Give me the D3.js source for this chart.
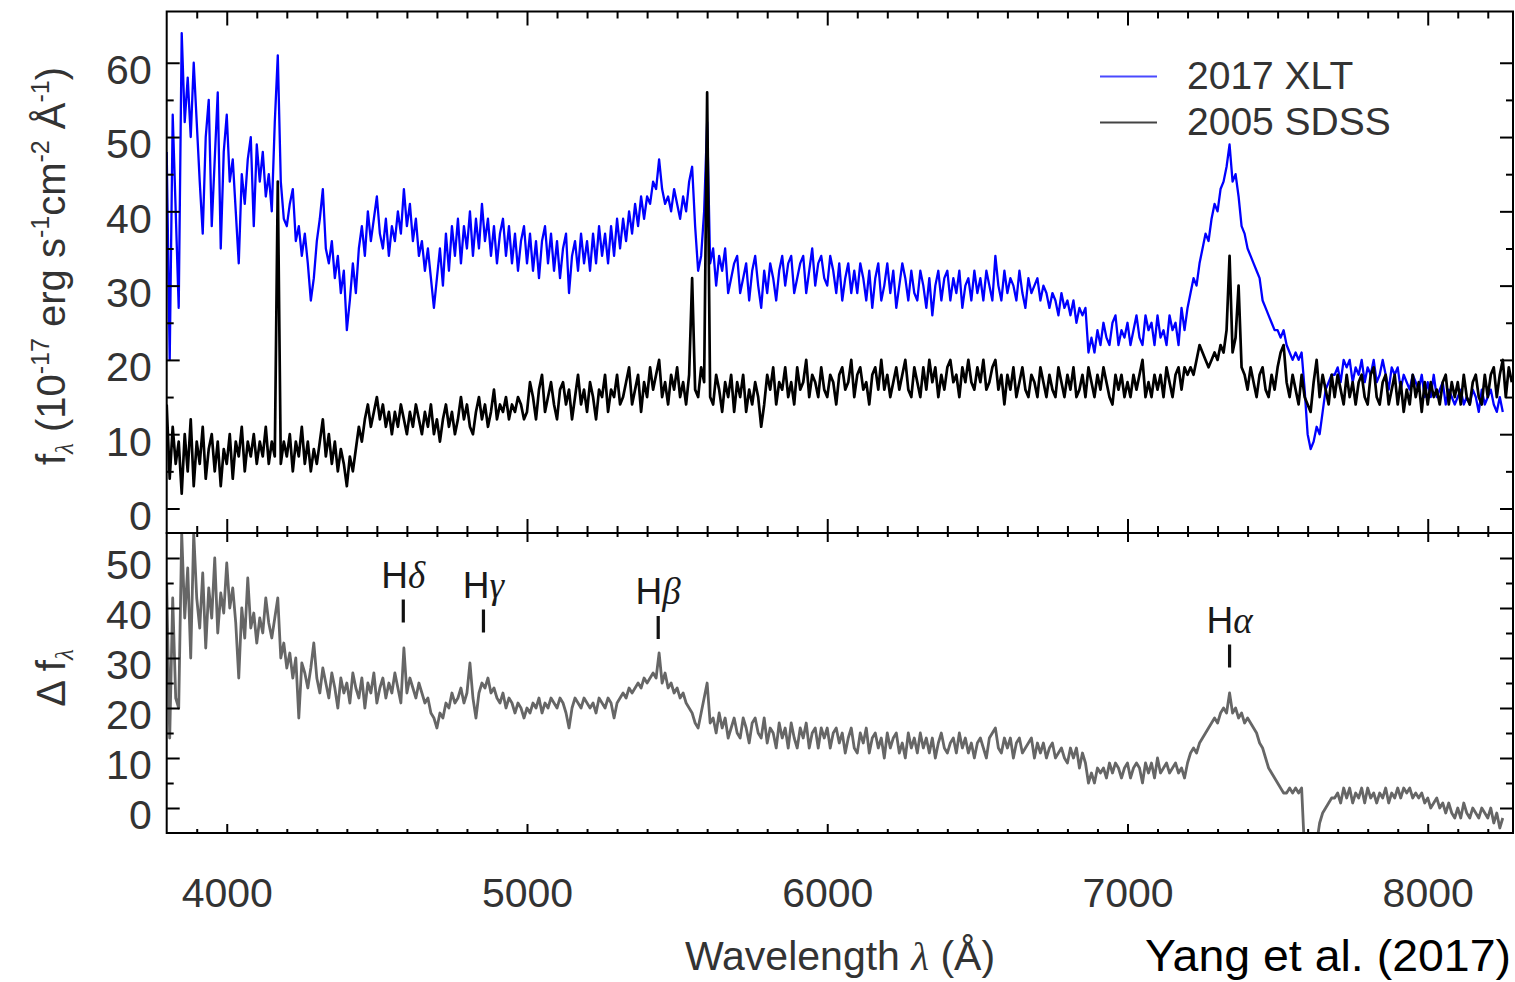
<!DOCTYPE html>
<html>
<head>
<meta charset="utf-8">
<script src="https://cdn.jsdelivr.net/npm/d3@7"></script>
<style>
  html, body { margin: 0; padding: 0; background: #fff; }
  svg { display: block; }
  text { font-family: "Liberation Sans", Arial, Helvetica, sans-serif; }
</style>
</head>
<body>
<svg id="chart" width="1515" height="982"></svg>
<script>
// Spectral sampling grid (Angstrom): first pixel and pixel width
const waveStart = 3800;
const waveStep = 10;

// 2017 XLT spectrum, f_lambda in 1e-17 erg/s/cm^2/A (one row per 100 A)
const flux2017 = [
  48, 20, 53, 40, 27, 64, 52, 58, 50, 60,
  52, 44, 37, 50, 55, 38, 47, 56, 35, 48,
  53, 44, 47, 40, 33, 45, 41, 47, 50, 38,
  49, 44, 48, 42, 45, 40, 52, 61, 44, 39,
  38, 41, 43, 36, 38, 34, 37, 33, 28, 31,
  36, 39, 43, 35, 33, 36, 31, 34, 29, 32,
  24, 28, 33, 29, 35, 38, 34, 40, 36, 39,
  42, 37, 35, 39, 34, 38, 36, 40, 37, 43,
  38, 41, 36, 39, 34, 36, 32, 35, 31, 27,
  31, 35, 30, 37, 32, 38, 34, 39, 33, 38,
  35, 40, 34, 39, 35, 41, 36, 39, 34, 38,
  33, 37, 39, 34, 38, 33, 37, 32, 36, 38,
  33, 37, 32, 36, 31, 36, 38, 33, 37, 32,
  36, 31, 35, 37, 29, 34, 36, 32, 37, 33,
  36, 32, 37, 33, 38, 34, 37, 33, 38, 34,
  39, 35, 39, 36, 40, 37, 41, 38, 42, 39,
  42, 41, 44, 43, 47, 43, 41, 42, 40, 43,
  41, 39, 42, 40, 44, 46, 38, 32, 34, 40,
  52, 33, 35, 30, 34, 32, 35, 29, 31, 33,
  34, 29, 31, 33, 28, 32, 34, 30, 27, 32,
  29, 33, 31, 28, 32, 34, 30, 33, 34, 29,
  31, 33, 34, 29, 32, 35, 30, 33, 34, 31,
  30, 34, 32, 29, 33, 28, 31, 33, 29, 32,
  29, 33, 31, 28, 32, 27, 31, 33, 28, 30,
  33, 29, 32, 27, 30, 33, 31, 28, 32, 29,
  28, 32, 30, 27, 31, 26, 30, 32, 28, 31,
  32, 28, 31, 29, 32, 27, 30, 31, 28, 32,
  29, 31, 28, 32, 30, 28, 34, 30, 28, 32,
  29, 31, 30, 28, 32, 29, 27, 31, 29, 30,
  31, 28, 30, 29, 27, 29, 28, 26, 29, 27,
  28, 26, 28, 25, 27, 26, 27, 21, 23, 21,
  24, 22, 25, 23, 22, 25, 26, 22, 24, 23,
  25, 22, 24, 26, 23, 22, 26, 24, 25, 22,
  26, 23, 24, 22, 26, 24, 25, 22, 27, 24,
  27, 29, 31, 30, 33, 35, 37, 36, 39, 41,
  40, 43, 44, 46, 49, 44, 45, 42, 38, 37,
  35, 34, 33, 32, 31, 28, 27, 26, 25, 24,
  24, 23, 24, 22, 21, 20, 21, 20, 21, 16,
  10, 8, 9, 11, 10, 13, 16, 17, 18, 18,
  19, 17, 20, 19, 20, 17, 19, 18, 20, 17,
  19, 18, 20, 17, 18, 20, 18, 16, 19, 18,
  19, 16, 18, 17, 16, 18, 17, 16, 18, 15,
  17, 15, 18, 15, 16, 17, 14, 16, 15, 14,
  15, 16, 14, 15, 14, 16, 15, 13, 16, 14,
  15, 16, 14, 13, 15, 13
];

// 2005 SDSS spectrum, same units and grid
const flux2005 = [
  14, 4, 11, 6, 9, 2, 10, 5, 12, 3,
  9, 6, 11, 4, 8, 10, 5, 9, 3, 8,
  6, 10, 4, 9, 7, 11, 5, 9, 7, 10,
  6, 9, 7, 11, 6, 9, 7, 44, 6, 9,
  7, 10, 5, 9, 7, 11, 6, 9, 5, 8,
  6, 9, 12, 7, 10, 6, 9, 5, 8, 6,
  3, 7, 5, 8, 11, 9, 12, 14, 11, 13,
  15, 12, 14, 11, 13, 10, 13, 11, 14, 12,
  10, 13, 11, 14, 12, 10, 13, 11, 14, 10,
  12, 9, 12, 14, 11, 13, 10, 12, 15, 12,
  14, 11, 10, 13, 15, 12, 14, 11, 13, 16,
  12, 14, 13, 15, 12, 14, 13, 15, 14, 12,
  13, 17, 15, 12, 16, 18, 13, 15, 17, 14,
  12, 16, 17, 14, 16, 12, 15, 18, 14, 16,
  13, 17, 15, 12, 16, 15, 18, 13, 16, 15,
  18, 14, 15, 17, 19, 14, 16, 18, 13, 17,
  15, 19, 16, 18, 20, 15, 17, 14, 18, 16,
  19, 15, 17, 14, 18, 31, 16, 15, 19, 17,
  56, 15, 14, 18, 16, 13, 17, 15, 18, 13,
  17, 15, 18, 13, 16, 14, 17, 15, 11, 14,
  18, 16, 19, 14, 17, 16, 19, 15, 17, 14,
  19, 16, 17, 20, 15, 18, 17, 15, 19, 16,
  15, 18, 17, 14, 18, 19, 16, 17, 20, 15,
  18, 19, 16, 17, 14, 18, 19, 16, 20, 16,
  18, 15, 17, 19, 16, 18, 20, 16, 15, 19,
  17, 15, 19, 16, 20, 17, 19, 15, 18, 16,
  19, 20, 17, 18, 15, 19, 17, 20, 17, 16,
  19, 17, 20, 16, 17, 19, 20, 16, 18, 14,
  18, 16, 19, 15, 17, 19, 16, 15, 18, 17,
  15, 19, 17, 15, 18, 16, 15, 19, 17, 15,
  18, 16, 19, 15, 16, 18, 15, 19, 17, 15,
  18, 16, 19, 17, 15, 14, 18, 16, 18, 15,
  17, 15, 18, 16, 18, 20, 15, 17, 15, 18,
  16, 18, 15, 19, 17, 15, 18, 19, 16, 19,
  18, 19, 18, 20, 22, 21, 20, 19, 20, 21,
  20, 22, 21, 24, 34, 21, 23, 30, 19, 18,
  16, 19, 17, 15, 18, 19, 16, 15, 18, 16,
  19, 21, 22, 17, 15, 18, 16, 14, 18, 15,
  14, 13, 17, 20, 15, 18, 16, 14, 18, 15,
  18, 16, 14, 18, 15, 17, 14, 17, 18, 15,
  14, 18, 19, 15, 14, 17, 18, 14, 16, 18,
  14, 17, 13, 16, 14, 18, 15, 17, 13, 17,
  14, 17, 15, 16, 14, 17, 18, 14, 17, 15,
  17, 14, 18, 15, 14, 17, 18, 15, 14, 18,
  15, 18, 19, 15, 18, 20, 15, 19, 17
];

// Difference spectrum (2017 - 2005)
const fluxDiff = [
  45, 14, 42, 22, 20, 55, 38, 48, 30, 55,
  42, 36, 47, 32, 44, 38, 50, 35, 43, 39,
  49, 40, 44, 37, 26, 40, 34, 46, 36, 39,
  33, 38, 35, 42, 37, 34, 38, 42, 30, 33,
  28, 31, 26, 30, 18, 29, 27, 24, 28, 33,
  26, 23, 28, 25, 22, 27, 24, 20, 26, 23,
  25, 21, 27, 24, 22, 26, 20, 25, 23, 27,
  21, 24, 26, 22, 25, 23, 27, 24, 21, 32,
  23, 26, 24, 22, 25, 23, 21, 22, 19, 18,
  16, 19, 18, 21, 20, 23, 21, 22, 24, 21,
  23, 29, 22, 18, 23, 25, 24, 26, 23, 24,
  22, 21, 23, 20, 22, 21, 19, 21, 20, 18,
  20, 19, 21, 20, 22, 19, 21, 20, 22, 21,
  20, 22, 21, 19, 16, 20, 22, 21, 20, 22,
  21, 20, 21, 19, 22, 21, 20, 22, 21, 18,
  21, 22, 23, 22, 24, 23, 24, 25, 24, 26,
  25, 26, 27, 26, 31, 25, 27, 24, 25, 23,
  24, 22, 23, 21, 20, 19, 17, 16, 19, 22,
  25, 17, 18, 15, 19, 16, 18, 14, 16, 18,
  15, 14, 18, 16, 13, 17, 18, 15, 14, 18,
  13, 16, 15, 12, 17, 14, 16, 12, 17, 14,
  12, 16, 14, 17, 12, 15, 16, 12, 16, 14,
  16, 12, 15, 16, 13, 15, 11, 14, 16, 12,
  11, 15, 13, 16, 11, 14, 15, 12, 14, 10,
  15, 12, 14, 15, 11, 13, 10, 15, 12, 14,
  11, 15, 12, 14, 11, 14, 10, 13, 15, 12,
  11, 13, 14, 11, 15, 12, 14, 11, 13, 10,
  13, 14, 12, 10, 14, 15, 16, 12, 11, 14,
  12, 14, 10, 13, 14, 11, 12, 13, 14, 10,
  13, 11, 13, 10, 12, 13, 10, 11, 12, 10,
  9, 12, 10, 12, 8, 11, 9, 5, 7, 5,
  8, 7, 8, 6, 9, 7, 9, 8, 6, 8,
  9, 6, 8, 9, 8, 5, 9, 7, 9, 6,
  10, 7, 8, 9, 7, 8, 9, 7, 8, 6,
  9, 11, 12, 11, 13, 14, 15, 16, 17, 18,
  17, 19, 20, 19, 23, 19, 20, 18, 19, 17,
  18, 17, 16, 15, 13, 12, 10, 8, 7, 6,
  5, 4, 3, 3, 4, 3, 4, 3, 4, -9,
  -10, -10, -9, -7, -3, -1, 0, 1, 2, 2,
  3, 1, 4, 2, 4, 1, 3, 2, 4, 1,
  4, 2, 3, 1, 3, 2, 4, 1, 3, 2,
  4, 2, 4, 3, 4, 2, 3, 2, 3, 1,
  2, 0, 1, 2, 0, 1, -1, 1, -1, -2,
  0, -2, 1, -1, -2, 0, -1, -2, 0, -1,
  -2, 0, -3, -1, -4, -2
];

// Axis ticks
const xMajorTicks = [4000, 5000, 6000, 7000, 8000];
const topMajorTicks = [0, 10, 20, 30, 40, 50, 60];
const bottomMajorTicks = [0, 10, 20, 30, 40, 50];

// Legend entries
const seriesNames = ["2017 XLT", "2005 SDSS"];
const seriesColors = ["#0000ff", "#000000"];

// Balmer line markers (observed wavelength, top of marker in difference units)
const lineGreek = ["\u03b4", "\u03b3", "\u03b2", "\u03b1"];
const lineWaves = [4588, 4855, 5437, 7340];
const lineMarkTops = [41.7, 39.7, 38.4, 32.7];

// ---- layout ----
const X0 = 166.7, X1 = 1513, TOP = 11.5, MID = 533, BOT = 833;

const svg = d3.select("#chart");

const x = d3.scaleLinear().domain([3800, 8284]).range([X0, X1]);
const yTop = d3.scaleLinear().domain([-3.3, 66.9]).range([MID, TOP]);
const yBot = d3.scaleLinear().domain([-5, 55]).range([BOT, MID]);

const xMinorTicks = d3.range(3900, 8300, 100).filter(v => !xMajorTicks.includes(v));
const topMinorTicks = d3.range(5, 60, 10);
const bottomMinorTicks = d3.range(5, 55, 10);

const toPoints = arr => arr.map((v, i) => [waveStart + i * waveStep, v]);

// clip regions for each panel
const defs = svg.append("defs");
defs.append("clipPath").attr("id", "clipTop")
  .append("rect").attr("x", X0).attr("y", TOP).attr("width", X1 - X0).attr("height", MID - TOP);
defs.append("clipPath").attr("id", "clipBot")
  .append("rect").attr("x", X0).attr("y", MID).attr("width", X1 - X0).attr("height", BOT - MID);

// ---- spectra ----
const lineTop = d3.line().x(d => x(d[0])).y(d => yTop(d[1]));
const lineBot = d3.line().x(d => x(d[0])).y(d => yBot(d[1]));

const gTop = svg.append("g").attr("clip-path", "url(#clipTop)");
gTop.append("path").datum(toPoints(flux2017))
  .attr("d", lineTop).attr("fill", "none")
  .attr("stroke", seriesColors[0]).attr("stroke-width", 2.3).attr("stroke-linejoin", "round");
gTop.append("path").datum(toPoints(flux2005))
  .attr("d", lineTop).attr("fill", "none")
  .attr("stroke", seriesColors[1]).attr("stroke-width", 2.7).attr("stroke-linejoin", "round");

const gBot = svg.append("g").attr("clip-path", "url(#clipBot)");
gBot.append("path").datum(toPoints(fluxDiff))
  .attr("d", lineBot).attr("fill", "none")
  .attr("stroke", "#666666").attr("stroke-width", 2.8).attr("stroke-linejoin", "round");

// ---- axes ----
function styleAxis(g) {
  g.select(".domain").remove();
  g.selectAll(".tick line").attr("stroke", "#000").attr("stroke-width", 2);
  g.attr("font-family", null).attr("font-size", null);
  g.selectAll("text")
    .attr("fill", "#333")
    .style("font-size", "41px")
    .style("font-family", "'Liberation Sans', Arial, Helvetica, sans-serif");
}

function panelAxes(yScale, yTopPx, yBotPx, yMajors, yMinors, xMajLen, xMinLen, withXLabels) {
  const noLabel = () => "";
  // top edge
  svg.append("g").attr("transform", `translate(0,${yTopPx})`)
    .call(d3.axisTop(x).tickValues(xMajorTicks).tickSizeInner(-xMajLen).tickSizeOuter(0).tickFormat(noLabel))
    .call(styleAxis);
  svg.append("g").attr("transform", `translate(0,${yTopPx})`)
    .call(d3.axisTop(x).tickValues(xMinorTicks).tickSizeInner(-xMinLen).tickSizeOuter(0).tickFormat(noLabel))
    .call(styleAxis);
  // bottom edge
  const bMaj = d3.axisBottom(x).tickValues(xMajorTicks).tickSizeInner(-xMajLen).tickSizeOuter(0)
    .tickPadding(45).tickFormat(withXLabels ? d3.format("d") : noLabel);
  svg.append("g").attr("transform", `translate(0,${yBotPx})`).call(bMaj).call(styleAxis);
  svg.append("g").attr("transform", `translate(0,${yBotPx})`)
    .call(d3.axisBottom(x).tickValues(xMinorTicks).tickSizeInner(-xMinLen).tickSizeOuter(0).tickFormat(noLabel))
    .call(styleAxis);
  // left edge
  const lg = svg.append("g").attr("transform", `translate(${X0},0)`)
    .call(d3.axisLeft(yScale).tickValues(yMajors).tickSizeInner(-13).tickSizeOuter(0).tickPadding(15).tickFormat(d3.format("d")))
    .call(styleAxis);
  lg.selectAll("text").attr("dy", "0.51em");
  svg.append("g").attr("transform", `translate(${X0},0)`)
    .call(d3.axisLeft(yScale).tickValues(yMinors).tickSizeInner(-7).tickSizeOuter(0).tickFormat(noLabel))
    .call(styleAxis);
  // right edge
  svg.append("g").attr("transform", `translate(${X1},0)`)
    .call(d3.axisRight(yScale).tickValues(yMajors).tickSizeInner(-13).tickSizeOuter(0).tickFormat(noLabel))
    .call(styleAxis);
  svg.append("g").attr("transform", `translate(${X1},0)`)
    .call(d3.axisRight(yScale).tickValues(yMinors).tickSizeInner(-7).tickSizeOuter(0).tickFormat(noLabel))
    .call(styleAxis);
  // frame
  svg.append("rect")
    .attr("x", X0).attr("y", yTopPx).attr("width", X1 - X0).attr("height", yBotPx - yTopPx)
    .attr("fill", "none").attr("stroke", "#000").attr("stroke-width", 2);
}

panelAxes(yTop, TOP, MID, topMajorTicks, topMinorTicks, 14, 7, false);
panelAxes(yBot, MID, BOT, bottomMajorTicks, bottomMinorTicks, 9, 4, true);

// ---- legend ----
const legendY = [76.5, 122.5];
const legend = svg.append("g");
seriesNames.forEach((name, i) => {
  legend.append("line")
    .attr("x1", 1100).attr("x2", 1157).attr("y1", legendY[i]).attr("y2", legendY[i])
    .attr("stroke", i === 0 ? "#4a4aff" : "#444").attr("stroke-width", 2);
  legend.append("text")
    .attr("x", 1187).attr("y", legendY[i] + 12.5)
    .attr("fill", "#333").style("font-size", "39px")
    .text(name);
});

// ---- Balmer line markers ----
const greekFont = "'Liberation Serif', 'DejaVu Serif', serif";
lineWaves.forEach((w, i) => {
  const px = x(w);
  const top = yBot(lineMarkTops[i]);
  svg.append("line")
    .attr("x1", px).attr("x2", px).attr("y1", top).attr("y2", top + 23)
    .attr("stroke", "#111").attr("stroke-width", 3.2);
  const t = svg.append("text")
    .attr("x", px).attr("y", top - 12)
    .attr("text-anchor", "middle").attr("fill", "#1a1a1a")
    .style("font-size", "37px");
  t.append("tspan").text("H");
  t.append("tspan").style("font-family", greekFont).style("font-style", "italic").text(lineGreek[i]);
});

// ---- axis titles ----
const yt = svg.append("text")
  .attr("transform", "translate(65,266) rotate(-90)")
  .attr("text-anchor", "middle").attr("fill", "#333")
  .style("font-size", "40px");
yt.append("tspan").text("f");
yt.append("tspan").style("font-size", "25px").style("font-family", greekFont).style("font-style", "italic").attr("dy", 8).text("\u03bb");
yt.append("tspan").attr("dy", -8).text(" (10");
yt.append("tspan").style("font-size", "25px").attr("dy", -16).text("-17");
yt.append("tspan").attr("dy", 16).text(" erg s");
yt.append("tspan").style("font-size", "25px").attr("dy", -16).text("-1");
yt.append("tspan").attr("dy", 16).text("cm");
yt.append("tspan").style("font-size", "25px").attr("dy", -16).text("-2");
yt.append("tspan").attr("dy", 16).text(" \u00c5");
yt.append("tspan").style("font-size", "25px").attr("dy", -16).text("-1");
yt.append("tspan").attr("dy", 16).text(")");

const yb = svg.append("text")
  .attr("transform", "translate(65,678) rotate(-90)")
  .attr("text-anchor", "middle").attr("fill", "#333")
  .style("font-size", "40px");
yb.append("tspan").text("\u0394 f");
yb.append("tspan").style("font-size", "25px").style("font-family", greekFont).style("font-style", "italic").attr("dy", 8).text("\u03bb");

const xt = svg.append("text")
  .attr("x", 840).attr("y", 970)
  .attr("text-anchor", "middle").attr("fill", "#333")
  .style("font-size", "41px");
xt.append("tspan").text("Wavelength ");
xt.append("tspan").style("font-family", greekFont).style("font-style", "italic").text("\u03bb");
xt.append("tspan").text(" (\u00c5)");

svg.append("text")
  .attr("x", 1145).attr("y", 971)
  .attr("fill", "#000").style("font-size", "45px")
  .attr("textLength", 366).attr("lengthAdjust", "spacingAndGlyphs")
  .text("Yang et al. (2017)");
</script>
</body>
</html>
